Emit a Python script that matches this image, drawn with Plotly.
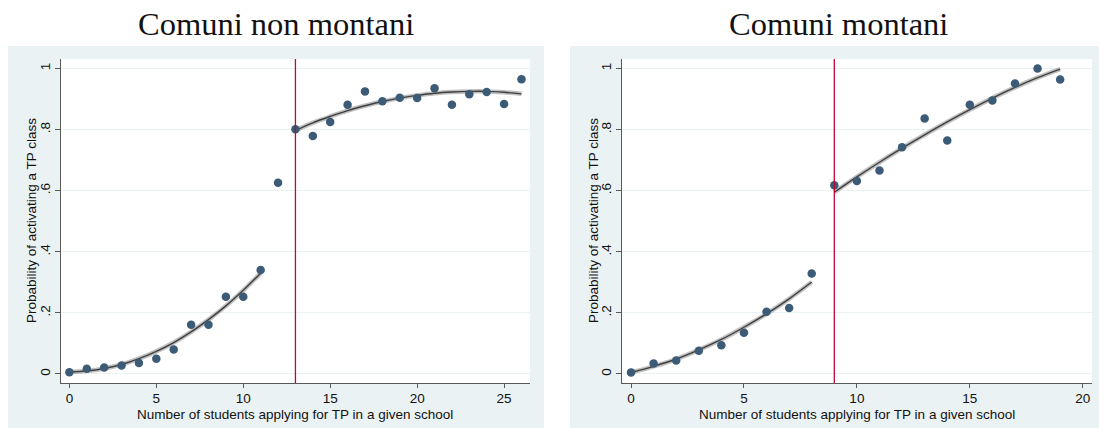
import plotly.graph_objects as go

# ---------------- data ----------------
titles = ["Comuni non montani", "Comuni montani"]
x_title = "Number of students applying for TP in a given school"
y_title = "Probability of activating a TP class"
y_tickvals = [0, 0.2, 0.4, 0.6, 0.8, 1]
y_ticktext = ["0", ".2", ".4", ".6", ".8", "1"]

# Left panel: non-mountain municipalities
nm_x = list(range(0, 27))
nm_y = [0.006, 0.017, 0.021, 0.028, 0.036, 0.050, 0.080, 0.161, 0.161, 0.253,
        0.253, 0.340, 0.626, 0.801, 0.779, 0.825, 0.881, 0.925, 0.893, 0.904,
        0.903, 0.935, 0.881, 0.916, 0.923, 0.884, 0.965]
nm_cutoff = 13
nm_fit_lo_x = list(range(0, 12))
nm_fit_lo_y = [0.007, 0.010, 0.018, 0.031, 0.050, 0.074, 0.103, 0.138, 0.178,
               0.223, 0.274, 0.330]
nm_fit_hi_x = list(range(13, 27))
nm_fit_hi_y = [0.797, 0.822, 0.843, 0.862, 0.878, 0.892, 0.903, 0.912, 0.919,
               0.923, 0.925, 0.925, 0.922, 0.917]
nm_xticks = [0, 5, 10, 15, 20, 25]

# Right panel: mountain municipalities
m_x = list(range(0, 20))
m_y = [0.005, 0.034, 0.044, 0.076, 0.094, 0.135, 0.204, 0.216, 0.329, 0.618,
       0.632, 0.666, 0.742, 0.836, 0.764, 0.881, 0.895, 0.951, 1.000, 0.964]
m_cutoff = 9
m_fit_lo_x = list(range(0, 9))
m_fit_lo_y = [0.005, 0.025, 0.049, 0.079, 0.113, 0.153, 0.197, 0.246, 0.301]
m_fit_hi_x = list(range(9, 20))
m_fit_hi_y = [0.595, 0.645, 0.693, 0.739, 0.783, 0.825, 0.865, 0.903, 0.938,
              0.970, 0.998]
m_xticks = [0, 5, 10, 15, 20]

# ---------------- style ----------------
W, H = 1099, 428
BG = "#EAF2F3"
MARKER = "#3B5B77"
FIT = "#3f3f3f"
HALO = "rgba(140,140,140,0.55)"
RED = "#C10534"
AXIS = "#5a5a5a"
SANS = "Liberation Sans, Arial, sans-serif"
SERIF = "Liberation Serif, Times New Roman, serif"

def px(x):
    return x / W

def py(y):
    return 1 - y / H

fig = go.Figure()

panels = [
    dict(xa="x", ya="y", pts=(nm_x, nm_y), fits=[(nm_fit_lo_x, nm_fit_lo_y), (nm_fit_hi_x, nm_fit_hi_y)],
         cutoff=nm_cutoff, xticks=nm_xticks, xrange=[-0.5, 26.49]),
    dict(xa="x2", ya="y2", pts=(m_x, m_y), fits=[(m_fit_lo_x, m_fit_lo_y), (m_fit_hi_x, m_fit_hi_y)],
         cutoff=m_cutoff, xticks=m_xticks, xrange=[-0.4, 20.41]),
]

for p in panels:
    for fx, fy in p["fits"]:
        fig.add_trace(go.Scatter(x=fx, y=fy, mode="lines", line=dict(color=HALO, width=4.5, shape="spline"),
                                 xaxis=p["xa"], yaxis=p["ya"], showlegend=False, hoverinfo="skip"))
        fig.add_trace(go.Scatter(x=fx, y=fy, mode="lines", line=dict(color=FIT, width=1.4, shape="spline"),
                                 xaxis=p["xa"], yaxis=p["ya"], showlegend=False))
    fig.add_trace(go.Scatter(x=p["pts"][0], y=p["pts"][1], mode="markers",
                             marker=dict(color=MARKER, size=8.5),
                             xaxis=p["xa"], yaxis=p["ya"], showlegend=False))

# panel backgrounds
shapes = [
    dict(type="rect", xref="paper", yref="paper", x0=px(8), x1=px(544), y0=py(428), y1=py(46),
         fillcolor=BG, line=dict(width=0), layer="below"),
    dict(type="rect", xref="paper", yref="paper", x0=px(570), x1=px(1099), y0=py(428), y1=py(46),
         fillcolor=BG, line=dict(width=0), layer="below"),
    dict(type="rect", xref="x domain", yref="y domain", x0=0, x1=1, y0=0, y1=1,
         fillcolor="white", line=dict(width=0), layer="below"),
    dict(type="rect", xref="x2 domain", yref="y2 domain", x0=0, x1=1, y0=0, y1=1,
         fillcolor="white", line=dict(width=0), layer="below"),
    dict(type="line", xref="x", yref="y domain", x0=nm_cutoff, x1=nm_cutoff, y0=0, y1=1,
         line=dict(color=RED, width=1.3), layer="above"),
    dict(type="line", xref="x2", yref="y2 domain", x0=m_cutoff, x1=m_cutoff, y0=0, y1=1,
         line=dict(color=RED, width=1.3), layer="above"),
]

ydom = [py(383), py(59)]
xdom1 = [px(60.7), px(530)]
xdom2 = [px(622), px(1092)]

TICKFONT = dict(family=SANS, size=13.5, color="#111")
TITLEFONT = dict(family=SANS, size=13.5, color="#111")

xaxis_common = dict(showgrid=False, zeroline=False, showline=True, linecolor=AXIS, linewidth=1.3,
                    ticks="outside", ticklen=4, tickcolor=AXIS, tickwidth=1,
                    tickfont=TICKFONT, ticklabelstandoff=-1)
yaxis_common = dict(range=[-0.0295, 1.031], tickvals=y_tickvals, ticktext=y_ticktext, tickangle=-90,
                    showgrid=True, gridcolor=BG, gridwidth=1.2, zeroline=False,
                    showline=True, linecolor=AXIS, linewidth=1.3,
                    ticks="outside", ticklen=5, tickcolor=AXIS, tickwidth=1,
                    tickfont=TICKFONT, ticklabelstandoff=-1)

ymid = (ydom[0] + ydom[1]) / 2
xmid1 = (xdom1[0] + xdom1[1]) / 2
xmid2 = (xdom2[0] + xdom2[1]) / 2

fig.update_layout(
    width=W, height=H, margin=dict(l=0, r=0, t=0, b=0),
    paper_bgcolor="white", plot_bgcolor="white",
    xaxis=dict(domain=xdom1, range=panels[0]["xrange"], tickvals=nm_xticks, anchor="y", **xaxis_common),
    yaxis=dict(domain=ydom, anchor="x", **yaxis_common),
    xaxis2=dict(domain=xdom2, range=panels[1]["xrange"], tickvals=m_xticks, anchor="y2", **xaxis_common),
    yaxis2=dict(domain=ydom, anchor="x2", **yaxis_common),
    shapes=shapes,
    annotations=[
        dict(text=titles[0], xref="paper", yref="paper", x=px(276), y=py(24), showarrow=False,
             xanchor="center", yanchor="middle", font=dict(family=SERIF, size=32.5, color="#111")),
        dict(text=titles[1], xref="paper", yref="paper", x=px(838), y=py(24), showarrow=False,
             xanchor="center", yanchor="middle", font=dict(family=SERIF, size=32.5, color="#111")),
        dict(text=y_title, xref="paper", yref="paper", x=px(31), y=ymid, showarrow=False, textangle=-90,
             xanchor="center", yanchor="middle", font=TITLEFONT),
        dict(text=y_title, xref="paper", yref="paper", x=px(593), y=ymid, showarrow=False, textangle=-90,
             xanchor="center", yanchor="middle", font=TITLEFONT),
        dict(text=x_title, xref="paper", yref="paper", x=xmid1, y=py(414), showarrow=False,
             xanchor="center", yanchor="middle", font=TITLEFONT),
        dict(text=x_title, xref="paper", yref="paper", x=xmid2, y=py(414), showarrow=False,
             xanchor="center", yanchor="middle", font=TITLEFONT),
    ],
)

fig.write_html("out.html")
